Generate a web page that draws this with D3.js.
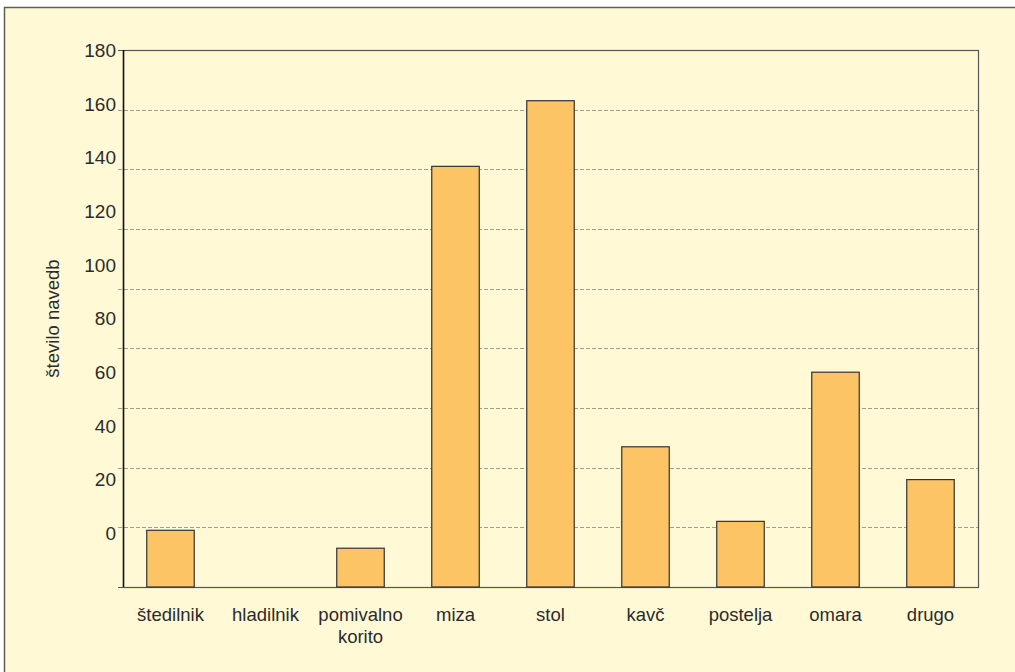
<!DOCTYPE html>
<meta charset="utf-8">
<style>
body {
  margin: 0;
  background: #fff;
  font-family: "Liberation Sans", Arial, Helvetica, sans-serif;
}
text {
  fill: #2b2b2b;
}
.grid line {
  stroke: #a09e8c;
  stroke-width: 1;
  stroke-dasharray: 4, 2;
}
.bar {
  fill: #fdc466;
  stroke: #333;
  stroke-width: 1.2;
}
</style>
<body>
<script src="https://cdn.jsdelivr.net/npm/d3@7/dist/d3.min.js"></script>
<script>

var width = 1015,
    height = 672;

// data
var categories = ["štedilnik", "hladilnik", "pomivalno korito", "miza", "stol", "kavč", "postelja", "omara", "drugo"];
var counts = [19, 0, 13, 141, 163, 47, 22, 72, 36];
var tickValues = [0, 20, 40, 60, 80, 100, 120, 140, 160, 180];
var yTitle = "število navedb";

var margin = {top: 50, right: 37, bottom: 85, left: 123};

var svg = d3.select("body").append("svg")
    .attr("width", width)
    .attr("height", height);

// panel
svg.append("rect")
    .attr("x", 4.5)
    .attr("y", 7.5)
    .attr("width", width + 10)
    .attr("height", height + 10)
    .attr("fill", "#fff9d6")
    .attr("stroke", "#5f5f58")
    .attr("stroke-width", 1.5);

var g = svg.append("g")
    .attr("transform", "translate(" + margin.left + "," + margin.top + ")");

var w = width - margin.left - margin.right,
    h = height - margin.top - margin.bottom;

var x = d3.scaleBand()
    .domain(categories)
    .range([0, w])
    .paddingInner(0.5)
    .paddingOuter(0.25);

var y = d3.scaleLinear()
    .domain([0, 180])
    .range([h, 0]);

// the labels in the original sit on an evenly squeezed column, not on the gridlines
var yLab = d3.scalePoint()
    .domain(tickValues.slice().reverse())
    .range([0, 483]);

// gridlines + left tick stubs
var grid = g.append("g").attr("class", "grid");
grid.selectAll("line")
    .data(tickValues.filter(function(d) { return d > 0 && d < 180; }))
  .enter().append("line")
    .attr("x1", -5)
    .attr("x2", w)
    .attr("y1", function(d) { return Math.round(y(d)) + 0.5; })
    .attr("y2", function(d) { return Math.round(y(d)) + 0.5; });

g.selectAll(".stub")
    .data([0, 180])
  .enter().append("line")
    .attr("x1", -5)
    .attr("x2", 0)
    .attr("y1", function(d) { return Math.round(y(d)) + 0.5; })
    .attr("y2", function(d) { return Math.round(y(d)) + 0.5; })
    .attr("stroke", "#555");

// plot frame
g.append("rect")
    .attr("x", 0.5)
    .attr("y", 0.5)
    .attr("width", w)
    .attr("height", h)
    .attr("fill", "none")
    .attr("stroke", "#555")
    .attr("stroke-width", 1.2);

g.append("line")
    .attr("x1", 0.5).attr("x2", 0.5)
    .attr("y1", 0).attr("y2", h)
    .attr("stroke", "#111")
    .attr("stroke-width", 1.5);

// bars
g.selectAll(".bar")
    .data(counts)
  .enter().filter(function(d) { return d > 0; }).append("rect")
    .attr("class", "bar")
    .attr("x", function(d, i) { return x(categories[counts.indexOf(d)]); })
    .attr("width", x.bandwidth())
    .attr("y", function(d) { return y(d); })
    .attr("height", function(d) { return h - y(d); });

// y labels
g.selectAll(".ylab")
    .data(tickValues)
  .enter().append("text")
    .attr("class", "ylab")
    .attr("x", -7)
    .attr("y", function(d) { return yLab(d); })
    .attr("dy", "0.36em")
    .attr("text-anchor", "end")
    .style("font-size", "19px")
    .text(function(d) { return d; });

// x labels, wrapped on spaces
g.selectAll(".xlab")
    .data(categories)
  .enter().append("text")
    .attr("class", "xlab")
    .attr("text-anchor", "middle")
    .attr("transform", function(d) { return "translate(" + (x(d) + x.bandwidth() / 2) + "," + (h + 34) + ")"; })
    .style("font-size", "18.5px")
    .each(function(d) {
      var t = d3.select(this);
      d.split(" ").forEach(function(word, k) {
        t.append("tspan")
            .attr("x", 0)
            .attr("dy", k ? 22 : 0)
            .text(word);
      });
    });

// y title
svg.append("text")
    .attr("transform", "translate(59," + (margin.top + h / 2) + ") rotate(-90)")
    .attr("text-anchor", "middle")
    .style("font-size", "18.5px")
    .text(yTitle);

</script>
